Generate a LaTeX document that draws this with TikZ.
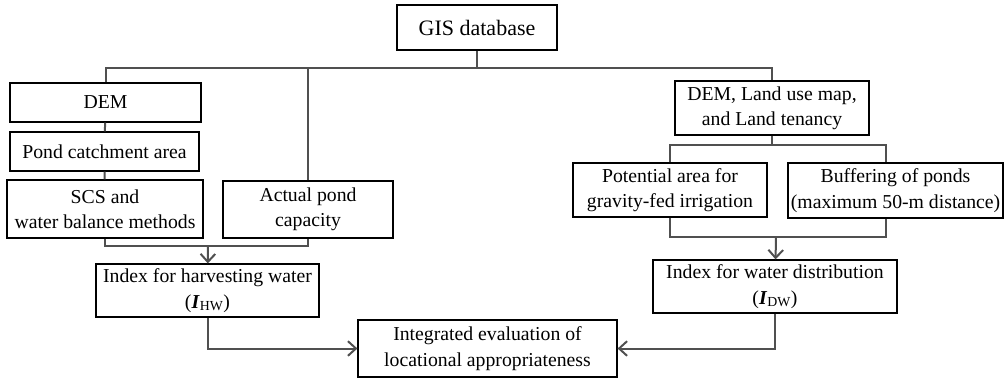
\documentclass[tikz,border=0pt]{standalone}
\usepackage{fontspec}
\setmainfont{Liberation Serif}
\usetikzlibrary{arrows.meta}
\definecolor{linegray}{HTML}{505050}

\begin{document}
\begin{tikzpicture}[x=0.75pt, y=-0.75pt,
  box/.style={draw=black, line width=0.9pt, align=center, inner sep=2pt,
    font=\fontsize{14.8pt}{19pt}\selectfont},
  link/.style={draw=linegray, line width=1.5pt},
  flow/.style={link, -{Straight Barb[length=6pt, width=11pt]}}]
  \useasboundingbox (0,0) rectangle (1005,378);
  % Source data
  \node[box, minimum width=120pt, minimum height=33.75pt, font=\fontsize{16.5pt}{20pt}\selectfont]
    (gis) at (477,27.5) {GIS database};
  % Branch for harvesting water
  \node[box, minimum width=143.25pt, minimum height=29.25pt] (dem) at (105.5,102.5) {DEM};
  \node[box, minimum width=141.75pt, minimum height=29.25pt] (pca) at (104.5,151.5) {Pond catchment area};
  \node[box, minimum width=147pt, minimum height=43.5pt] (scs) at (105,209) {SCS and\\water balance methods};
  \node[box, minimum width=127.5pt, minimum height=42.75pt] (apc) at (308,209.5) {Actual pond\\capacity};
  \node[box, minimum width=167.25pt, minimum height=39.75pt] (ihw) at (207.5,290.5)
    {Index for harvesting water\\(\textbf{\textit{I}}\textsubscript{HW})};
  % Branch for water distribution
  \node[box, minimum width=145.5pt, minimum height=40.5pt] (dlm) at (772,108) {DEM, Land use map,\\and Land tenancy};
  \node[box, minimum width=145.5pt, minimum height=40.5pt] (pot) at (670,190) {Potential area for\\gravity-fed irrigation};
  \node[box, minimum width=161.25pt, minimum height=41.25pt] (buf) at (895.5,190.5) {Buffering of ponds\\(maximum 50-m distance)};
  \node[box, minimum width=183pt, minimum height=39.75pt] (idw) at (775,286.5)
    {Index for water distribution\\(\textbf{\textit{I}}\textsubscript{DW})};
  % Final evaluation
  \node[box, minimum width=194.25pt, minimum height=42.75pt] (iev) at (487.5,348.5)
    {Integrated evaluation of\\locational appropriateness};
  % Junctions
  \coordinate (top) at (477,68);
  \coordinate (jl) at (208,246);
  \coordinate (jr1) at (772,145);
  \coordinate (jr2) at (776,237);
  % Tree from the database
  \draw[link] (gis) -- (top);
  \draw[link] (dem.north) |- (top) -| (dlm.north);
  \draw[link] (apc.north) -- (apc.north |- top);
  \draw[link] (dem) -- (pca);
  \draw[link] (pca) -- (scs);
  \draw[link] (scs.south) |- (jl) -| (apc.south);
  \draw[flow] (jl) -- (ihw);
  \draw[link] (dlm) -- (jr1);
  \draw[link] (pot.north) |- (jr1) -| ([xshift=-7.5pt]buf.north);
  \draw[link] (pot.south) |- (jr2) -| ([xshift=-7.5pt]buf.south);
  \draw[flow] (jr2) -- (idw);
  % Both indices feed the evaluation
  \draw[flow] (ihw.south) |- (iev.west);
  \draw[flow] (idw.south) |- (iev.east);
\end{tikzpicture}
\end{document}
